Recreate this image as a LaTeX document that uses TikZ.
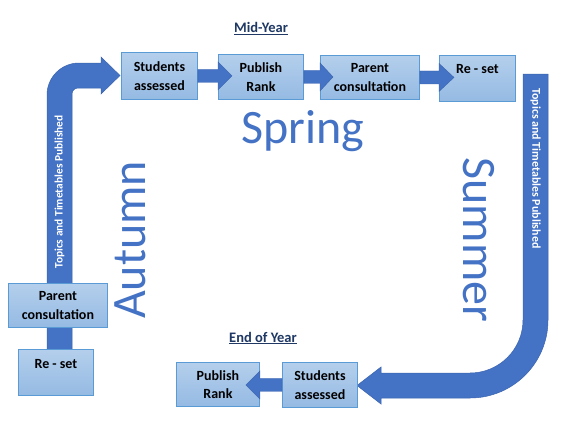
\documentclass[tikz,border=0pt]{standalone}
\usepackage{fontspec}
\setmainfont{Carlito}
\usetikzlibrary{calc}
\definecolor{boxtop}{HTML}{B4CFEC}
\definecolor{boxbot}{HTML}{95BAE3}
\definecolor{boxline}{HTML}{5B9BD5}
\definecolor{arrowblue}{HTML}{4472C4}
\definecolor{arrowline}{HTML}{3A64AE}
\definecolor{seasonblue}{HTML}{4472C4}
\definecolor{headingblue}{HTML}{1F3864}
\tikzset{
  stagebox/.style={draw=boxline, line width=0.9pt, top color=boxtop, bottom color=boxbot,
    font=\bfseries\fontsize{14}{18.5}\selectfont, align=center, inner sep=0pt, anchor=north west},
  bigarrow/.style={fill=arrowblue, draw=arrowline, line width=0.5pt},
  smallarrow/.style={fill=arrowblue, draw=arrowline, line width=0.4pt},
  seasontext/.style={text=seasonblue, font=\fontsize{48}{58}\selectfont, inner sep=0pt},
  headingtext/.style={text=headingblue, font=\bfseries\fontsize{14.5}{17}\selectfont, inner sep=0pt},
  arrowtext/.style={text=white, inner sep=0pt},
}
\newcommand\blkarrow[3]{%
  \filldraw[smallarrow] let \p1=(#1), \p2=(#2) in
    (\x1,\y1+6.5pt) -- (\x2,\y1+6.5pt) -- (\x2,\y1+14pt) -- ({\x2+(#3)},\y1)
    -- (\x2,\y1-14pt) -- (\x2,\y1-6.5pt) -- (\x1,\y1-6.5pt) -- cycle;}
\begin{document}
\begin{tikzpicture}[x=1pt,y=-1pt]
\useasboundingbox (0,0) rectangle (572,420);
\fill[white] (0,0) rectangle (572,420);

% big bent arrows
\filldraw[bigarrow] (47,360) -- (47,95) arc[start angle=180,end angle=270,radius=32]
  -- (101,63) -- (101,57) -- (120,75.5) -- (101,94) -- (101,88) -- (78,88)
  arc[start angle=270,end angle=180,radius=6] -- (72,360) -- cycle;
\filldraw[bigarrow] (523,74) -- (548,74) -- (548,320) arc[start angle=0,end angle=90,radius=78]
  -- (381,398) -- (381,404) -- (357,385.5) -- (381,367) -- (381,373) -- (470,373)
  arc[start angle=90,end angle=0,radius=53] -- cycle;

\node[arrowtext, rotate=90, font=\bfseries\fontsize{11.4}{13}\selectfont] (tleft) at (59.5,192) {Topics and Timetables Published};
\node[arrowtext, rotate=-90, font=\bfseries\fontsize{11.9}{13}\selectfont] (tright) at (535.5,168.5) {Topics and Timetables Published};

% headings
\node[headingtext, anchor=base] (midyear) at (261,33) {\underline{Mid-Year}};
\node[headingtext, anchor=base] (endyear) at (263,342) {\underline{End of Year}};

% seasons
\node[seasontext, anchor=base] (spring) at (303,143) {Spring};
\node[seasontext, rotate=90, anchor=base] (autumn) at (145,240) {Autumn};
\node[seasontext, rotate=-90, anchor=base] (summer) at (463,240) {Summer};

% top row
\node[stagebox, minimum width=76pt, minimum height=47pt] (sa1) at (121,52) {Students\\assessed};
\node[stagebox, minimum width=85pt, minimum height=45pt] (pr1) at (218,54) {Publish\\Rank};
\node[stagebox, minimum width=99pt, minimum height=44pt] (pc1) at (320,55) {Parent\\consultation};
\node[stagebox, minimum width=76pt, text height=18.5pt, text depth=27.5pt] (rs1) at (439,55) {Re - set};

% left column
\node[stagebox, minimum width=99pt, minimum height=44pt] (pc2) at (8,283) {Parent\\consultation};
\node[stagebox, minimum width=75pt, text height=19pt, text depth=27pt] (rs2) at (18,349) {Re - set};

% bottom row
\node[stagebox, minimum width=83pt, minimum height=44pt] (pr3) at (176,362) {Publish\\Rank};
\node[stagebox, minimum width=75pt, minimum height=45pt] (sa3) at (282,362) {Students\\assessed};

% small block arrows
\blkarrow{sa1.east}{pr1.west}{14pt}
\blkarrow{pr1.west -| pr1.east}{pc1.west}{13pt}
\blkarrow{pc1.east}{rs1.west |- pc1.east}{15pt}
\blkarrow{sa3.west}{pr3.east}{-14pt}
\end{tikzpicture}
\end{document}
